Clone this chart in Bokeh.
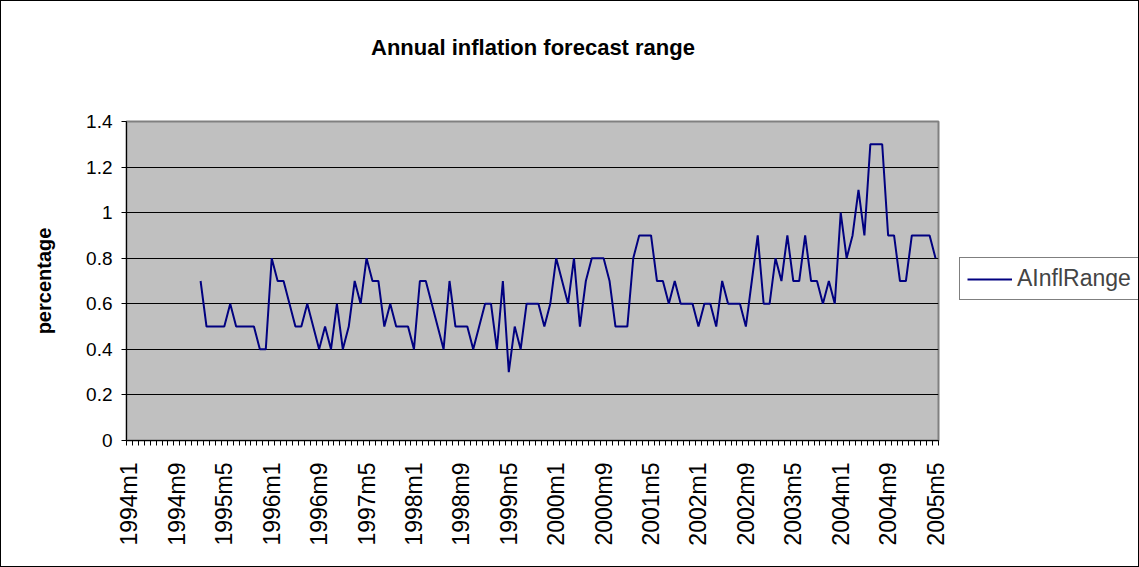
import math
from bokeh.plotting import figure
from bokeh.layouts import row, column
from bokeh.models import FixedTicker, Legend, LegendItem, ColumnDataSource, Range1d, Div
from bokeh.embed import file_html
from bokeh.resources import INLINE

# ---- data ----
months = [f"{y}m{m}" for y in range(1994, 2006) for m in range(1, 13)][:137]   # 1994m1 .. 2005m5
label_every = 8
series_name = "AInflRange"
chart_title = "Annual inflation forecast range"
start_month = "1995m1"
ainfl_range = [
    0.7, 0.5, 0.5, 0.5, 0.5, 0.6, 0.5, 0.5, 0.5, 0.5, 0.4, 0.4,   # 1995
    0.8, 0.7, 0.7, 0.6, 0.5, 0.5, 0.6, 0.5, 0.4, 0.5, 0.4, 0.6,   # 1996
    0.4, 0.5, 0.7, 0.6, 0.8, 0.7, 0.7, 0.5, 0.6, 0.5, 0.5, 0.5,   # 1997
    0.4, 0.7, 0.7, 0.6, 0.5, 0.4, 0.7, 0.5, 0.5, 0.5, 0.4, 0.5,   # 1998
    0.6, 0.6, 0.4, 0.7, 0.3, 0.5, 0.4, 0.6, 0.6, 0.6, 0.5, 0.6,   # 1999
    0.8, 0.7, 0.6, 0.8, 0.5, 0.7, 0.8, 0.8, 0.8, 0.7, 0.5, 0.5,   # 2000
    0.5, 0.8, 0.9, 0.9, 0.9, 0.7, 0.7, 0.6, 0.7, 0.6, 0.6, 0.6,   # 2001
    0.5, 0.6, 0.6, 0.5, 0.7, 0.6, 0.6, 0.6, 0.5, 0.7, 0.9, 0.6,   # 2002
    0.6, 0.8, 0.7, 0.9, 0.7, 0.7, 0.9, 0.7, 0.7, 0.6, 0.7, 0.6,   # 2003
    1.0, 0.8, 0.9, 1.1, 0.9, 1.3, 1.3, 1.3, 0.9, 0.9, 0.7, 0.7,   # 2004
    0.9, 0.9, 0.9, 0.9, 0.8,                                      # 2005
]
y_ticks = [0, 0.2, 0.4, 0.6, 0.8, 1, 1.2, 1.4]
y_tick_labels = ["0", "0.2", "0.4", "0.6", "0.8", "1", "1.2", "1.4"]

first = months.index(start_month)
x_idx = list(range(first, first + len(ainfl_range)))
src = ColumnDataSource(data=dict(x=x_idx, y=ainfl_range, month=months[first:first + len(ainfl_range)]))

FONT = "Liberation Sans"
LINE_COLOR = "#000080"

# ---- title (HTML) ----
title_div = Div(
    text=(f'<div style="width:1064px;text-align:center;font-family:\'Liberation Sans\',Arial,sans-serif;'
          f'font-size:22px;font-weight:bold;line-height:26px;color:black;padding-top:34px;margin:0">'
          f'{chart_title}</div>'),
    width=1137, height=60, margin=0)

# ---- main chart ----
p = figure(frame_width=812, frame_height=319, output_backend="svg", toolbar_location=None,
           x_range=Range1d(-0.5, len(months) - 0.5), y_range=Range1d(0, 1.4),
           min_border_left=125, min_border_right=10, min_border_top=60, min_border_bottom=126,
           margin=0)

p.background_fill_color = "#C0C0C0"
p.border_fill_color = "white"
p.outline_line_color = "#808080"
p.outline_line_width = 2

r = p.line("x", "y", source=src, line_color=LINE_COLOR, line_width=2)

# x axis
xt = list(range(0, len(months), label_every))
p.xaxis.ticker = FixedTicker(ticks=xt, minor_ticks=[i - 0.5 for i in range(len(months) + 1)])
p.xaxis.major_label_overrides = {t: months[t] for t in xt}
p.xaxis.major_label_orientation = math.pi / 2
p.xaxis.major_tick_out = 0
p.xaxis.major_tick_in = 0
p.xaxis.minor_tick_out = 5
p.xaxis.minor_tick_in = 0
p.xaxis.minor_tick_line_color = "black"
p.xaxis.axis_line_color = "black"
p.xaxis.major_label_text_font = FONT
p.xaxis.major_label_text_font_size = "23px"
p.xaxis.major_label_text_color = "black"
p.xaxis.major_label_standoff = 17

# y axis
p.yaxis.ticker = FixedTicker(ticks=y_ticks, minor_ticks=[])
p.yaxis.major_label_overrides = dict(zip(y_ticks, y_tick_labels))
p.yaxis.major_tick_out = 5
p.yaxis.major_tick_in = 0
p.yaxis.major_tick_line_color = "black"
p.yaxis.axis_line_color = "black"
p.yaxis.major_label_text_font = FONT
p.yaxis.major_label_text_font_size = "19px"
p.yaxis.major_label_text_color = "black"
p.yaxis.major_label_standoff = 9
p.yaxis.axis_label = "percentage"
p.yaxis.axis_label_text_font = FONT
p.yaxis.axis_label_text_font_size = "20px"
p.yaxis.axis_label_text_font_style = "bold"
p.yaxis.axis_label_text_color = "black"
p.yaxis.axis_label_standoff = 28

p.xgrid.grid_line_color = None
p.ygrid.grid_line_color = "black"
p.ygrid.grid_line_width = 1

# ---- legend panel (separate small figure to the right; its series is kept out of view) ----
lf = figure(width=190, height=505, output_backend="svg", toolbar_location=None,
            x_range=Range1d(-2, -1), y_range=Range1d(0, 1),
            x_axis_location=None, y_axis_location=None,
            min_border_left=0, min_border_right=0, min_border_top=0, min_border_bottom=0,
            margin=0)
lf.grid.visible = False
lf.outline_line_color = None
lf.background_fill_color = "white"
lf.border_fill_color = "white"
key = lf.line("x", "y", source=src, line_color=LINE_COLOR, line_width=2)

legend = Legend(items=[LegendItem(label=series_name, renderers=[key])],
                location=(11, 140), margin=0, padding=7, spacing=0,
                glyph_width=45, label_standoff=5,
                label_text_font=FONT, label_text_font_size="23px",
                border_line_color="black", border_line_width=1,
                background_fill_color="white", background_fill_alpha=1.0)
lf.add_layout(legend, "center")

layout = column(title_div, row(p, lf, spacing=0), spacing=0)
layout.styles = {"border": "1px solid black", "background-color": "white"}

open("out.html", "w").write(file_html(layout, INLINE))
